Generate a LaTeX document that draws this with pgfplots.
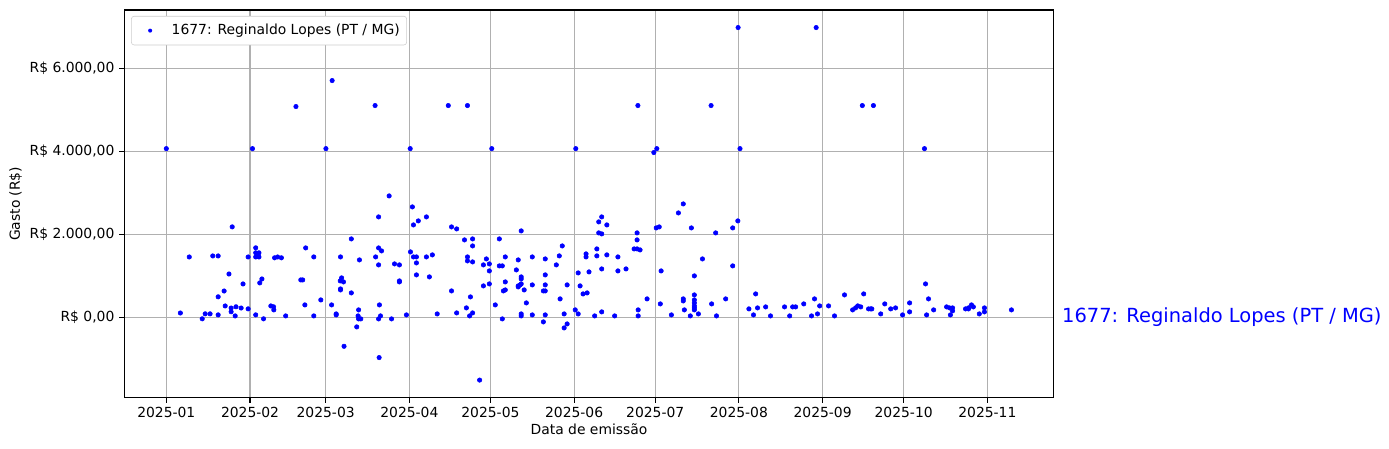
\documentclass[border=0pt]{standalone}
\usepackage{fontspec}
\setmainfont{DejaVu Sans}
\usepackage{pgfplots}
\usepackage{pgfplotstable}
\pgfplotsset{compat=1.18}
\definecolor{gridgray}{RGB}{176,176,176}
\definecolor{legendgray}{RGB}{204,204,204}
% day index since 2025-01-01, value in R$
\pgfplotstableread{
x y
0 4070
5.2 110
8.5 1460
13.3 -30
14.4 90
16.2 90
17.2 1485
19.2 1485
19.2 500
19.2 65
21.4 640
21.8 280
23.2 1050
24.0 230
24.0 140
24.4 2185
25.5 40
25.8 260
27.7 230
28.4 810
30.3 1460
30.3 210
31.9 4070
33.1 1680
33.1 1560
34.3 1560
33.1 1460
34.3 1460
33.7 1500
33.1 65
34.6 835
35.4 930
36.0 -30
38.7 280
39.7 260
39.8 185
40.1 1440
41.2 1460
42.6 1440
44.2 40
48.0 5084
49.8 907
50.5 907
51.3 305
51.6 1678
54.6 1461
54.6 40
57.2 425
59.1 4070
61.2 305
61.4 5710
62.9 88
62.9 64
64.5 1461
64.9 956
64.4 883
65.6 859
64.5 690
64.5 666
65.8 -692
68.5 1895
68.5 594
70.5 -225
71.0 40
71.2 185
71.2 -32
71.5 1389
72.0 -32
77.3 5108
77.5 1461
78.6 2425
78.6 1678
78.6 1269
78.6 -32
78.8 -964
78.9 305
79.3 40
79.7 1606
82.5 2931
83.4 -32
84.5 1293
86.3 1269
86.3 883
86.3 859
88.9 64
90.3 4070
90.4 1582
91.1 2666
91.5 2232
91.5 1461
92.6 1461
92.6 1317
92.6 1028
93.3 2329
96.3 2425
96.3 1461
97.4 980
98.5 1510
100.3 88
104.4 5108
105.6 2184
105.6 642
107.5 2136
107.5 112
110.4 1871
111.1 233
111.5 5108
111.5 1461
111.5 1365
112.3 40
112.6 498
113.4 1895
113.4 1726
113.4 1341
113.4 112
116.0 -1506
117.4 1269
117.4 763
118.5 1413
119.6 1293
119.6 1124
119.6 811
120.5 4070
121.8 305
123.3 1895
123.3 1245
124.4 1245
124.4 -32
124.8 642
125.5 1461
125.5 859
125.5 666
129.6 1148
130.3 1389
130.3 763
130.3 739
131.0 787
131.4 2088
131.4 980
131.4 931
131.4 811
131.4 88
131.4 40
132.5 666
133.3 353
135.5 1461
135.5 787
135.5 64
139.6 642
139.6 -104
140.3 1413
140.3 1028
140.3 787
140.3 642
140.3 64
144.4 1269
145.5 1486
145.8 450
146.6 1726
147.3 88
147.3 -249
148.4 787
148.4 -153
151.4 185
151.6 4070
152.5 1076
152.5 88
153.2 763
154.3 570
155.4 1534
155.4 1461
155.8 594
156.5 1100
158.6 40
159.4 1654
159.4 1486
160.1 2305
160.1 2040
161.2 2425
161.2 2016
161.2 1172
161.2 137
163.1 2232
163.1 1510
166.0 40
167.2 1461
167.2 1124
170.2 1172
173.2 1654
174.3 2040
174.3 1871
174.3 1654
174.6 5108
174.7 185
174.7 40
175.4 1630
178.0 450
180.5 3976
181.4 2160
181.6 4070
182.5 2184
182.9 329
183.2 1124
187.0 64
189.6 2521
191.4 2738
191.4 450
191.4 401
191.8 185
194.0 40
194.4 2160
195.5 1004
195.5 546
195.5 425
195.5 353
195.5 281
195.5 233
195.5 185
197.0 88
198.5 1413
201.7 5108
201.9 329
203.4 2040
203.7 40
207.1 450
209.7 2160
209.7 1245
211.6 2329
211.7 6987
212.4 4070
215.7 209
217.4 64
218.2 570
218.9 233
221.9 257
223.7 40
228.9 257
230.8 40
231.9 257
233.0 257
236.0 329
238.9 40
240.0 450
240.6 6987
241.1 88
241.9 281
245.2 281
247.4 40
251.1 546
254.1 185
255.2 233
256.0 281
257.1 257
257.7 5108
258.2 570
260.0 209
260.8 209
261.2 209
261.8 5108
264.5 88
266.0 329
268.2 209
270.0 233
272.6 64
275.2 353
275.2 137
280.7 4070
281.1 811
281.5 64
282.2 450
284.1 185
288.9 257
290.0 233
290.3 64
291.1 233
291.1 161
295.9 209
297.0 233
297.0 209
298.1 305
298.8 257
301.0 88
302.9 233
302.9 137
312.9 185
}\datatable
\begin{document}
\begin{tikzpicture}
\begin{axis}[
  scale only axis,
  width=669.3pt, height=279.1pt,
  xmin=-15.6, xmax=328.6,
  ymin=-1930, ymax=7410,
  clip=false,
  axis line style={line width=0.8pt},
  every tick/.style={black, line width=0.8pt},
  tick align=outside,
  major tick length=3.5pt,
  xtick pos=left, ytick pos=left,
  xtick={0,31,59,90,120,151,181,212,243,273,304},
  xticklabels={2025-01,2025-02,2025-03,2025-04,2025-05,2025-06,2025-07,2025-08,2025-09,2025-10,2025-11},
  ytick={0,2000,4000,6000},
  yticklabels={R\$ 0{,}00,R\$ 2.000{,}00,R\$ 4.000{,}00,R\$ 6.000{,}00},
  /pgf/number format/assume math mode=true,
  tick label style={font=\fontsize{10}{12}\selectfont},
  grid=major,
  major grid style={gridgray, line width=0.8pt},
  xlabel={Data de emissão},
  ylabel={Gasto (R\$)},
  label style={font=\fontsize{10}{12}\selectfont},
  xlabel style={at={(axis description cs:0.5,0)}, anchor=north, yshift=-18.5pt, inner sep=0pt},
  ylabel style={at={(axis description cs:-0.1098,0.5)}, anchor=south, inner sep=0pt},
  legend style={at={(axis description cs:0,1)}, anchor=north west, xshift=5pt, yshift=-4.3pt,
    draw=legendgray, rounded corners=2pt, fill=white,
    font=\fontsize{10}{12}\selectfont, inner xsep=3pt, inner ysep=3.8pt},
  legend cell align=left,
  legend image code/.code={\path[draw=none, fill=none] (0pt,0pt) -- (24pt,0pt);
    \fill[blue, draw=none] (10.5pt,0pt) circle[radius=1.45pt];},
]
\addplot[only marks, mark=*, mark size=1.6pt, color=blue, mark options={draw=none, fill=blue}] table[x=x, y=y] {\datatable};
\addlegendentry{1677: Reginaldo Lopes (PT / MG)}
\node[anchor=west, text=blue, font=\fontsize{14}{17}\selectfont, inner sep=0pt] at (axis cs:331.6,0) {1677: Reginaldo Lopes (PT / MG)};
\end{axis}
\pgfresetboundingbox
\path[use as bounding box] ([shift={(-89.4pt,-36.3pt)}]current axis.south west) rectangle ([shift={(241.3pt,7.2pt)}]current axis.north east);
\end{tikzpicture}
\end{document}
